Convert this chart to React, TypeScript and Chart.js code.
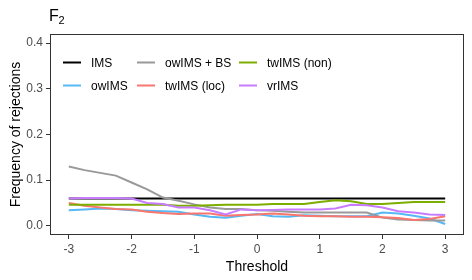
import React, { useEffect, useRef } from "react";
import { Chart, registerables } from "chart.js";

Chart.register(...registerables);

const thresholds = [-3, -2.75, -2.5, -2.25, -2, -1.75, -1.5, -1.25, -1, -0.75, -0.5, -0.25, 0, 0.25, 0.5, 0.75, 1, 1.25, 1.5, 1.75, 2, 2.25, 2.5, 2.75, 3];

const ims = [0.06, 0.06, 0.06, 0.06, 0.06, 0.06, 0.06, 0.06, 0.06, 0.06, 0.06, 0.06, 0.06, 0.06, 0.06, 0.06, 0.06, 0.06, 0.06, 0.06, 0.06, 0.06, 0.06, 0.06, 0.06];
const owims = [0.034, 0.036, 0.038, 0.037, 0.034, 0.033, 0.032, 0.031, 0.025, 0.02, 0.018, 0.022, 0.026, 0.021, 0.02, 0.023, 0.022, 0.021, 0.021, 0.021, 0.029, 0.027, 0.022, 0.016, 0.004];
const owimsBs = [0.13, 0.122, 0.116, 0.11, 0.095, 0.08, 0.062, 0.055, 0.047, 0.04, 0.037, 0.037, 0.034, 0.033, 0.031, 0.029, 0.029, 0.029, 0.029, 0.029, 0.018, 0.014, 0.013, 0.012, 0.012];
const twimsLoc = [0.05, 0.044, 0.04, 0.037, 0.036, 0.031, 0.028, 0.026, 0.027, 0.027, 0.022, 0.024, 0.025, 0.027, 0.025, 0.022, 0.021, 0.021, 0.02, 0.02, 0.019, 0.017, 0.013, 0.015, 0.021];
const twimsNon = [0.046, 0.046, 0.046, 0.046, 0.046, 0.046, 0.046, 0.044, 0.044, 0.045, 0.046, 0.046, 0.046, 0.048, 0.048, 0.048, 0.052, 0.056, 0.054, 0.048, 0.048, 0.05, 0.052, 0.052, 0.052];
const vrims = [0.06, 0.061, 0.061, 0.061, 0.06, 0.05, 0.048, 0.04, 0.04, 0.034, 0.025, 0.036, 0.034, 0.035, 0.036, 0.036, 0.036, 0.038, 0.046, 0.045, 0.04, 0.032, 0.029, 0.025, 0.024];

const xTicks = [-3, -2, -1, 0, 1, 2, 3];
const yTicks = [0, 0.1, 0.2, 0.3, 0.4];

const seriesNames = ["IMS", "owIMS", "owIMS + BS", "twIMS (loc)", "twIMS (non)", "vrIMS"];
const seriesColors = ["#000000", "#56B8F5", "#999999", "#F8766D", "#7CAE00", "#C77CFF"];
const seriesValues = [ims, owims, owimsBs, twimsLoc, twimsNon, vrims];

const FONT = "'Liberation Sans', Arial, sans-serif";

export default function App() {
  const ref = useRef<HTMLCanvasElement>(null);
  useEffect(() => {
    if (!ref.current) return;
    const overlay = {
      id: "overlay",
      afterDraw(chart: any) {
        const ctx = chart.ctx;
        const a = chart.chartArea;
        ctx.save();
        ctx.strokeStyle = "#333333";
        ctx.lineWidth = 1;
        ctx.strokeRect(a.left + 0.5, a.top + 0.5, a.right - a.left - 1, a.bottom - a.top - 1);
        // title
        ctx.fillStyle = "#000";
        ctx.textBaseline = "alphabetic";
        ctx.textAlign = "left";
        ctx.font = `16px ${FONT}`;
        ctx.fillText("F", 49, 21);
        ctx.font = `11px ${FONT}`;
        ctx.fillText("2", 58.5, 24);
        // axis titles
        ctx.font = `14px ${FONT}`;
        ctx.textAlign = "center";
        ctx.fillText("Threshold", (a.left + a.right) / 2, 271);
        ctx.save();
        ctx.translate(19.5, (a.top + a.bottom) / 2);
        ctx.rotate(-Math.PI / 2);
        ctx.fillText("Frequency of rejections", 0, 0);
        ctx.restore();
        // legend
        const cols = [63, 137, 239];
        const rows = [62.5, 85.5];
        ctx.font = `12px ${FONT}`;
        ctx.textAlign = "left";
        ctx.textBaseline = "middle";
        seriesNames.forEach((name, i) => {
          const c = Math.floor(i / 2);
          const r = i % 2;
          const x = cols[c];
          const y = rows[r];
          ctx.strokeStyle = seriesColors[i];
          ctx.lineWidth = 2;
          ctx.beginPath();
          ctx.moveTo(x, y);
          ctx.lineTo(x + 18, y);
          ctx.stroke();
          ctx.fillStyle = "#000";
          ctx.fillText(name, x + 28, y + 1);
        });
        ctx.restore();
      },
    };
    const chart = new Chart(ref.current, {
      type: "line",
      data: {
        datasets: seriesNames.map((name, i) => ({
          label: name,
          data: thresholds.map((t, j) => ({ x: t, y: seriesValues[i][j] })),
          borderColor: seriesColors[i],
          backgroundColor: seriesColors[i],
          borderWidth: 2,
          pointRadius: 0,
          tension: 0,
          fill: false,
          order: seriesNames.length - i,
        })),
      },
      options: {
        animation: false,
        responsive: false,
        maintainAspectRatio: false,
        layout: { padding: { left: 0, right: 8, top: 34, bottom: 0 } },
        plugins: { legend: { display: false }, tooltip: { enabled: false }, title: { display: false } },
        scales: {
          x: {
            type: "linear",
            min: -3.3,
            max: 3.3,
            afterBuildTicks: (s: any) => {
              s.ticks = xTicks.map((v) => ({ value: v }));
            },
            afterFit: (s: any) => {
              s.height = 45;
            },
            ticks: {
              color: "#4D4D4D",
              font: { family: FONT, size: 12 },
              padding: 3,
              maxRotation: 0,
              callback: (v: any) => String(v),
            },
            grid: { display: true, drawOnChartArea: false, drawTicks: true, tickLength: 4, color: "#333333" },
            border: { display: false },
          },
          y: {
            type: "linear",
            min: -0.02,
            max: 0.42,
            afterBuildTicks: (s: any) => {
              s.ticks = yTicks.map((v) => ({ value: v }));
            },
            afterFit: (s: any) => {
              s.width = 50;
            },
            ticks: {
              color: "#4D4D4D",
              font: { family: FONT, size: 12 },
              padding: 3,
              callback: (v: any) => Number(v).toFixed(1),
            },
            grid: { display: true, drawOnChartArea: false, drawTicks: true, tickLength: 4, color: "#333333" },
            border: { display: false },
          },
        },
      },
      plugins: [overlay],
    });
    return () => chart.destroy();
  }, []);
  return (
    <div style={{ position: "fixed", left: 0, top: 0, width: 472, height: 280, background: "#fff" }}>
      <canvas ref={ref} width={472} height={280} style={{ width: 472, height: 280 }} />
    </div>
  );
}
